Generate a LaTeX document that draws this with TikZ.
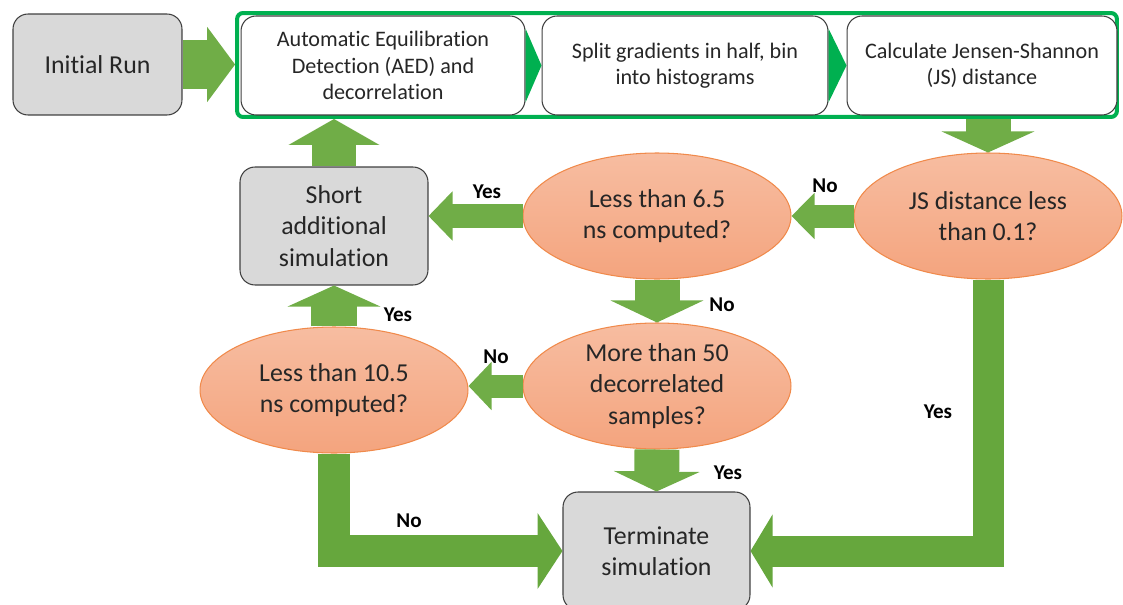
\documentclass[tikz,border=0pt]{standalone}
\usepackage{fontspec}
\setmainfont{Carlito}[RawFeature={-liga;-clig;-dlig;-calt}]
\usetikzlibrary{arrows.meta,calc,shapes.geometric}
\definecolor{arrowgreen}{HTML}{70AD47}
\definecolor{elbowgreen}{HTML}{66A73D}
\definecolor{framegreen}{HTML}{00B050}
\definecolor{boxgray}{HTML}{D9D9D9}
\definecolor{ovalline}{HTML}{F08A4B}
\definecolor{ovaltop}{HTML}{F7BDA1}
\definecolor{ovalbottom}{HTML}{F4A47E}
\definecolor{textgray}{HTML}{262626}
\begin{document}
\begin{tikzpicture}[x=0.02cm, y=-0.02cm,
        graybox/.style={draw=black!75, line width=0.6pt, fill=boxgray, rounded corners=0.3cm, inner sep=0pt, align=center, text=textgray, font=\fontsize{14.7}{17.8}\selectfont},
        whitebox/.style={draw=black!75, line width=0.6pt, fill=white, rounded corners=0.3cm, minimum height=1.98cm, inner sep=0pt, align=center, text=textgray, font=\fontsize{12.6}{15}\selectfont},
        oval/.style={ellipse, draw=ovalline, line width=0.6pt, top color=ovaltop, bottom color=ovalbottom, minimum width=5.36cm, minimum height=2.52cm, inner sep=0pt, align=center, text=textgray, font=\fontsize{14.7}{17.8}\selectfont},
        fat/.style={draw=arrowgreen},
        answer/.style={font=\bfseries\fontsize{12}{14}\selectfont}]
            \useasboundingbox (0, 0) rectangle (1123, 605);
            \node[graybox, minimum width=3.38cm, minimum height=2.02cm] (init) at (97.5, 64.5) {Initial Run};
            \node[draw=framegreen, line width=0.08cm, rounded corners=0.12cm, minimum width=17.6cm, minimum height=2.08cm, inner sep=0pt] (frame) at (677, 65) {};
            \foreach \n/\x/\w/\t in {b1/383/5.68/{Automatic Equilibration\\Detection (AED) and\\decorrelation}, b2/685/5.72/{Split gradients in half, bin\\into histograms}, b3/982/5.4/{Calculate Jensen-Shannon\\(JS) distance}}
                \node[whitebox, minimum width=\w cm] (\n) at (\x, 65.5) {\t};
            \foreach \a/\b in {b1/b2, b2/b3}
                \fill[framegreen] ($(\a.east)+(0, -37)$) -- (\b.west) -- ($(\a.east)+(0, 37)$) -- cycle;
            \node[oval] (js) at (988, 216) {JS distance less\\than 0.1?};
            \node[oval] (l65) at (657, 216) {Less than 6.5\\ns computed?};
            \node[oval] (more) at (657, 386) {More than 50\\decorrelated\\samples?};
            \node[oval] (l105) at (334, 390) {Less than 10.5\\ns computed?};
            \node[graybox, minimum width=3.76cm, minimum height=2.36cm] (short) at (334, 226) {Short\\additional\\simulation};
            \node[graybox, minimum width=3.74cm, minimum height=2.36cm] (term) at (656.5, 551) {Terminate\\simulation};
            \draw[fat, line width=0.98cm, -{Triangle[length=0.56cm, width=1.48cm]}] (init.east) -- (frame.west |- init.east);
            \draw[fat, line width=0.9cm, -{Triangle[length=0.42cm, width=1.84cm]}] (frame.south -| js.north) -- (js.north);
            \draw[fat, line width=0.46cm, -{Triangle[length=0.46cm, width=0.9cm]}] (js.west) -- (l65.east);
            \draw[fat, line width=0.48cm, -{Triangle[length=0.48cm, width=0.96cm]}] (l65.west) -- (short.east |- l65.west);
            \draw[fat, line width=0.9cm, -{Triangle[length=0.52cm, width=1.8cm]}] (short.north) -- (short.north |- frame.south);
            \draw[fat, line width=0.9cm, -{Triangle[length=0.44cm, width=1.84cm]}] (l65.south) -- (more.north);
            \draw[fat, line width=0.46cm, -{Triangle[length=0.46cm, width=0.94cm]}] (more.west) -- (l105.east |- more.west);
            \draw[fat, line width=0.92cm, -{Triangle[length=0.42cm, width=1.84cm]}] (l105.north) -- (short.south);
            \draw[fat, line width=0.9cm, -{Triangle[length=0.4cm, width=1.7cm]}] (more.south) -- (term.north);
            \draw[draw=elbowgreen, line width=0.64cm, -{Triangle[length=0.5cm, width=1.5cm]}] (l105.south) -- (l105.south |- term.west) -- (term.west);
            \draw[draw=elbowgreen, line width=0.62cm, -{Triangle[length=0.44cm, width=1.44cm]}] (js.south) -- (js.south |- term.east) -- (term.east);
            \foreach \n/\x/\y/\t in {lno1/825/186/No, lyes1/487/192/Yes, lno2/722/305/No, lyes2/398/315/Yes, lno3/496/357/No, lyes3/938/412/Yes, lyes4/728/473/Yes, lno4/409/521/No}
                \node[answer] (\n) at (\x, \y) {\t};
        \end{tikzpicture}
\end{document}
